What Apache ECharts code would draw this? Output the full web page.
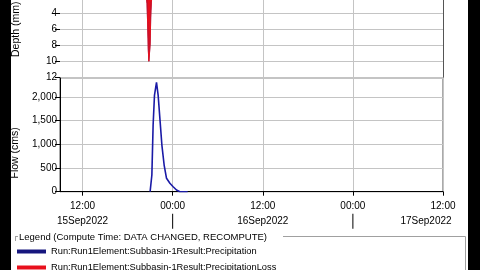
<!DOCTYPE html>
<html><head><meta charset="utf-8">
<script src="https://cdn.jsdelivr.net/npm/echarts@6/dist/echarts.min.js"></script>
<style>html,body{margin:0;padding:0;background:#fff}#c{width:480px;height:270px}</style>
</head><body><div id="c"></div>
<script>
// ---- data ----
const baseTime = '2022-09-15T00:00';
const axisStart = '2022-09-15T09:00';
const axisEnd = '2022-09-17T12:00';
const tickTimes = ['2022-09-15T12:00','2022-09-16T00:00','2022-09-16T12:00','2022-09-17T00:00','2022-09-17T12:00'];
const timeLabels = ['12:00','00:00','12:00','00:00','12:00'];
const dateLabels = ['15Sep2022','','16Sep2022','','17Sep2022'];
const seriesNames = ['Run:Run1Element:Subbasin-1Result:Precipitation','Run:Run1Element:Subbasin-1Result:PrecipitationLoss','Run:Run1Element:Subbasin-1Result:Outflow'];
const legendTitle = 'Legend (Compute Time: DATA CHANGED, RECOMPUTE)';
const depthAxisName = 'Depth (mm)';
const flowAxisName = 'Flow (cms)';
const precipTimes = ['2022-09-15T20:00','2022-09-15T20:10','2022-09-15T20:20','2022-09-15T20:30','2022-09-15T20:35','2022-09-15T20:40','2022-09-15T20:45','2022-09-15T20:50','2022-09-15T20:55','2022-09-15T21:00','2022-09-15T21:05','2022-09-15T21:10','2022-09-15T21:15','2022-09-15T21:25','2022-09-15T21:40','2022-09-15T22:00','2022-09-15T22:30'];
const precipDepth = [0.5,0.8,1.2,1.8,2.8,5.2,8.5,10.0,10.0,8.0,4.5,2.6,1.8,1.2,0.7,0.4,0];
const lossDepth   = [0.5,0.8,1.2,1.8,2.8,5.2,8.5,10.0,10.0,8.0,4.5,2.6,1.8,1.2,0.7,0.4,0];
const flowTimes = ['2022-09-15T21:00','2022-09-15T21:06','2022-09-15T21:14','2022-09-15T21:24','2022-09-15T21:35','2022-09-15T21:51','2022-09-15T22:04','2022-09-15T22:18','2022-09-15T22:34','2022-09-15T22:52','2022-09-15T23:11','2022-09-15T23:38','2022-09-16T00:04','2022-09-16T00:31','2022-09-16T00:58','2022-09-16T02:00'];
const flowValues = [0,0,352,1407,2040,2308,2040,1549,985,563,283,177,105,36,0,0];

// ---- helpers ----
const H = s => (Date.parse(s + ':00Z') - Date.parse(baseTime + ':00Z')) / 3600000;
const tickH = tickTimes.map(H);
const pair = (ts, vs) => ts.map((t, i) => [H(t), vs[i]]);
const FONT = 'Liberation Sans';
const navy = '#16167e', red = '#e8101c', flowBlue = '#1a1aa6';

const chart = echarts.init(document.getElementById('c'), null, {renderer: 'canvas'});
chart.setOption({
  animation: false,
  backgroundColor: '#fff',
  textStyle: {fontFamily: FONT},
  grid: [
    {left: 60, right: 37, top: -18.7, height: 96, show: false, containLabel: false, outerBoundsMode: 'none'},
    {left: 60, right: 37, top: 78, height: 113.7, show: true, borderColor: '#555', borderWidth: 1, backgroundColor: 'transparent', containLabel: false, outerBoundsMode: 'none'}
  ],
  xAxis: [
    {type: 'value', gridIndex: 0, min: H(axisStart), max: H(axisEnd),
     axisLine: {show: true, lineStyle: {color: '#555', width: 1}},
     axisTick: {show: false, customValues: tickH},
     axisLabel: {show: false, customValues: tickH},
     splitLine: {show: true, lineStyle: {color: '#c4c4c4', width: 1}}},
    {type: 'value', gridIndex: 1, min: H(axisStart), max: H(axisEnd),
     axisLine: {show: true, onZero: false, lineStyle: {color: '#000', width: 1}},
     axisTick: {show: true, length: 4, lineStyle: {color: '#000'}, customValues: tickH},
     axisLabel: {show: true, customValues: tickH, margin: 7, color: '#000', fontSize: 10, fontFamily: FONT, hideOverlap: false,
       formatter: function (v) {
         const i = tickH.findIndex(t => Math.abs(t - v) < 1e-6);
         if (i < 0) return '';
         const last = i === tickH.length - 1;
         const second = dateLabels[i] ? (last ? '{dl|' + dateLabels[i] + '}' : '{d|' + dateLabels[i] + '}') : '{s| }';
         return '{t|' + timeLabels[i] + '}\n' + second;
       },
       rich: {
         t: {fontSize: 10, lineHeight: 15, color: '#000', fontFamily: FONT},
         d: {fontSize: 10, lineHeight: 15, color: '#000', fontFamily: FONT},
         dl: {fontSize: 10, lineHeight: 15, color: '#000', fontFamily: FONT, padding: [0, 34, 0, 0]},
         s: {width: 1, height: 15, lineHeight: 15, backgroundColor: '#000', fontSize: 1}
       }},
     splitLine: {show: true, lineStyle: {color: '#c4c4c4', width: 1}}}
  ],
  yAxis: [
    {type: 'value', gridIndex: 0, inverse: true, min: 0, max: 12, interval: 2,
     name: depthAxisName, nameLocation: 'middle', nameGap: 38, nameRotate: 90,
     nameTextStyle: {color: '#000', fontSize: 10.5, fontFamily: FONT},
     axisLine: {show: false},
     axisTick: {show: true, length: 5, lineStyle: {color: '#000'}},
     axisLabel: {color: '#000', fontSize: 10, margin: 3, fontFamily: FONT},
     splitLine: {show: true, lineStyle: {color: '#c4c4c4', width: 1}}},
    {type: 'value', gridIndex: 1, min: 0, max: 2400, interval: 500,
     name: flowAxisName, nameLocation: 'middle', nameGap: 38, nameRotate: 90,
     nameTextStyle: {color: '#000', fontSize: 10.5, fontFamily: FONT, padding: [0, 36, 0, 0]},
     axisLine: {show: true, onZero: false, lineStyle: {color: '#000', width: 1}},
     axisTick: {show: true, length: 5, lineStyle: {color: '#000'}},
     axisLabel: {color: '#000', fontSize: 10, margin: 3, fontFamily: FONT, showMaxLabel: false},
     splitLine: {show: true, lineStyle: {color: '#c4c4c4', width: 1}}},
    {type: 'value', gridIndex: 0, position: 'right', min: 0, max: 12,
     axisLine: {show: true, lineStyle: {color: '#555', width: 1}},
     axisTick: {show: false}, axisLabel: {show: false}, splitLine: {show: false}}
  ],
  legend: [0, 1].map(i => ({
    orient: 'vertical', left: 17, top: 247 + i * 16, itemWidth: 29, itemHeight: 4,
    selectedMode: false, icon: 'rect', padding: 0,
    textStyle: {color: '#000', fontSize: 9.3, fontFamily: FONT},
    data: [{name: seriesNames[i], icon: 'rect'}]
  })),
  series: [
    {name: seriesNames[0], type: 'line', xAxisIndex: 0, yAxisIndex: 0, data: pair(precipTimes, precipDepth),
     symbol: 'none', color: navy, lineStyle: {width: 0.5, color: navy}, areaStyle: {color: navy, opacity: 1}},
    {name: seriesNames[1], type: 'line', xAxisIndex: 0, yAxisIndex: 0, data: pair(precipTimes, lossDepth),
     symbol: 'none', color: red, lineStyle: {width: 1, color: red}, areaStyle: {color: red, opacity: 1}},
    {name: seriesNames[2], type: 'line', xAxisIndex: 1, yAxisIndex: 1, data: pair(flowTimes, flowValues),
     symbol: 'none', color: flowBlue, lineStyle: {width: 1.6, color: flowBlue}}
  ],
  graphic: [
    {type: 'rect', left: 0, top: 0, shape: {width: 11, height: 270}, style: {fill: '#000'}, z: 100},
    {type: 'rect', left: 468, top: 0, shape: {width: 12, height: 270}, style: {fill: '#000'}, z: 100},
    {type: 'text', left: 19, top: 232, style: {text: legendTitle, fill: '#000', font: '9.5px "Liberation Sans"'}},
    {type: 'line', shape: {x1: 15, y1: 236.5, x2: 18, y2: 236.5}, style: {stroke: '#a0a0a0', lineWidth: 1}},
    {type: 'line', shape: {x1: 15.5, y1: 236.5, x2: 15.5, y2: 241}, style: {stroke: '#a0a0a0', lineWidth: 1}},
    {type: 'line', shape: {x1: 283, y1: 236.5, x2: 465.5, y2: 236.5}, style: {stroke: '#a0a0a0', lineWidth: 1}},
    {type: 'line', shape: {x1: 465.5, y1: 236.5, x2: 465.5, y2: 270}, style: {stroke: '#a0a0a0', lineWidth: 1}}
  ]
});
</script></body></html>
